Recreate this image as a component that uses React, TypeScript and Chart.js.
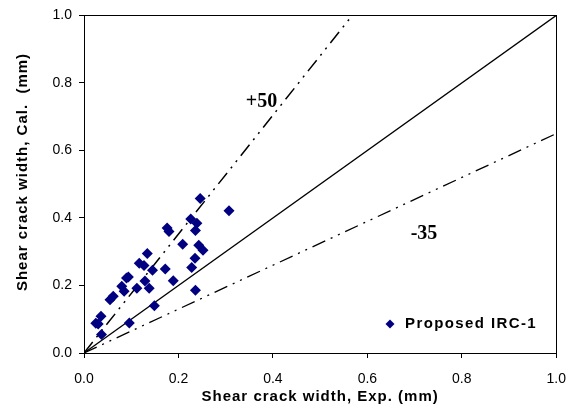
import React, { useEffect, useRef } from "react";
import { Chart, registerables } from "chart.js";

Chart.register(...registerables);

// Proposed IRC-1: experimental vs calculated shear crack width (mm)
const expWidth = [
  0.246, 0.307, 0.226, 0.239, 0.236, 0.176, 0.18, 0.209, 0.243, 0.252, 0.134,
  0.235, 0.117, 0.127, 0.145, 0.172, 0.228, 0.094, 0.09, 0.129, 0.189, 0.08,
  0.085, 0.112, 0.138, 0.236, 0.062, 0.055, 0.149, 0.036, 0.025, 0.03, 0.096,
  0.037,
];
const calWidth = [
  0.458, 0.421, 0.397, 0.384, 0.363, 0.37, 0.36, 0.322, 0.319, 0.304, 0.295,
  0.281, 0.266, 0.259, 0.245, 0.249, 0.253, 0.225, 0.222, 0.213, 0.214, 0.198,
  0.183, 0.192, 0.192, 0.186, 0.168, 0.158, 0.14, 0.109, 0.088, 0.086, 0.089,
  0.055,
];

// Reference lines
const equalX = [0, 1];
const equalY = [0, 1];
const plus50X = [0, 0.568];
const plus50Y = [0, 1];
const minus35X = [0, 1];
const minus35Y = [0, 0.65];

const tickValues = [0, 0.2, 0.4, 0.6, 0.8, 1.0];

const seriesLabel = "Proposed IRC-1";
const xTitle = "Shear crack width, Exp. (mm)";
const yTitle = "Shear crack width, Cal.  (mm)";
const plusLabel = "+50";
const minusLabel = "-35";

const toPoints = (xs: number[], ys: number[]) => xs.map((x, i) => ({ x, y: ys[i] }));

const MARKER = "#000080";
const SANS = "'Liberation Sans', Arial, sans-serif";
const SERIF = "'Liberation Serif', 'Times New Roman', serif";
const DASHDOT = [14, 6, 2, 6, 2, 6];

const decor = {
  id: "decor",
  afterDraw(chart: any) {
    const { ctx, chartArea, scales } = chart;
    const xs = scales.x;
    const ys = scales.y;
    ctx.save();
    // frame
    ctx.strokeStyle = "#000";
    ctx.lineWidth = 1;
    ctx.strokeRect(
      Math.round(chartArea.left) + 0.5,
      Math.round(chartArea.top) + 0.5,
      Math.round(chartArea.right - chartArea.left),
      Math.round(chartArea.bottom - chartArea.top)
    );
    ctx.fillStyle = "#000";
    // axis titles
    ctx.font = `bold 15px ${SANS}`;
    (ctx as any).letterSpacing = "1px";
    ctx.textAlign = "center";
    ctx.textBaseline = "middle";
    ctx.fillText(xTitle, (chartArea.left + chartArea.right) / 2, 397);
    ctx.save();
    ctx.translate(23, 172);
    ctx.rotate(-Math.PI / 2);
    ctx.fillText(yTitle, 0, 0);
    ctx.restore();
    // line annotations
    (ctx as any).letterSpacing = "0px";
    ctx.font = `bold 20px ${SERIF}`;
    ctx.fillText(plusLabel, xs.getPixelForValue(0.376), ys.getPixelForValue(0.745));
    ctx.fillText(minusLabel, xs.getPixelForValue(0.72), ys.getPixelForValue(0.352));
    // legend
    const lx = 390;
    const ly = 324;
    ctx.fillStyle = MARKER;
    ctx.beginPath();
    ctx.moveTo(lx, ly - 4.5);
    ctx.lineTo(lx + 4.5, ly);
    ctx.lineTo(lx, ly + 4.5);
    ctx.lineTo(lx - 4.5, ly);
    ctx.closePath();
    ctx.fill();
    ctx.fillStyle = "#000";
    ctx.font = `bold 15px ${SANS}`;
    (ctx as any).letterSpacing = "1.4px";
    ctx.textAlign = "left";
    ctx.fillText(seriesLabel, 405, ly);
    ctx.restore();
  },
};

export default function App() {
  const ref = useRef<HTMLCanvasElement | null>(null);

  useEffect(() => {
    if (!ref.current) return;
    const chart = new Chart(ref.current, {
      type: "scatter",
      data: {
        datasets: [
          {
            label: seriesLabel,
            data: toPoints(expWidth, calWidth),
            pointStyle: "rectRot",
            pointRadius: 5.5,
            pointBackgroundColor: MARKER,
            pointBorderWidth: 0,
            borderColor: MARKER,
            backgroundColor: MARKER,
            showLine: false,
          },
          {
            label: "1:1",
            data: toPoints(equalX, equalY),
            showLine: true,
            borderColor: "#000",
            borderWidth: 1.3,
            pointRadius: 0,
          },
          {
            label: "+50",
            data: toPoints(plus50X, plus50Y),
            showLine: true,
            borderColor: "#000",
            borderWidth: 1.5,
            borderDash: DASHDOT,
            pointRadius: 0,
          },
          {
            label: "-35",
            data: toPoints(minus35X, minus35Y),
            showLine: true,
            borderColor: "#000",
            borderWidth: 1.3,
            borderDash: DASHDOT,
            pointRadius: 0,
          },
        ],
      },
      options: {
        responsive: false,
        animation: false,
        layout: { padding: { top: 14, right: 21, left: 0, bottom: 0 } },
        plugins: {
          legend: { display: false },
          tooltip: { enabled: false },
        },
        scales: {
          x: {
            type: "linear",
            min: 0,
            max: 1,
            afterFit: (s: any) => {
              s.height = 61;
            },
            afterBuildTicks: (s: any) => {
              s.ticks = tickValues.map((v) => ({ value: v }));
            },
            ticks: {
              color: "#000",
              font: { family: SANS, size: 14 },
              padding: 13,
              maxRotation: 0,
              callback: (v: any) => Number(v).toFixed(1),
            },
            grid: {
              drawOnChartArea: false,
              drawTicks: true,
              tickLength: 5,
              color: "#000",
            },
            border: { display: true, color: "#000", width: 1 },
          },
          y: {
            type: "linear",
            min: 0,
            max: 1,
            afterFit: (s: any) => {
              s.width = 84;
            },
            afterBuildTicks: (s: any) => {
              s.ticks = tickValues.map((v) => ({ value: v }));
            },
            ticks: {
              color: "#000",
              font: { family: SANS, size: 14 },
              padding: 7,
              callback: (v: any) => Number(v).toFixed(1),
            },
            grid: {
              drawOnChartArea: false,
              drawTicks: true,
              tickLength: 5,
              color: "#000",
            },
            border: { display: true, color: "#000", width: 1 },
          },
        },
      },
      plugins: [decor],
    });
    return () => chart.destroy();
  }, []);

  return (
    <div style={{ position: "absolute", left: 0, top: 0, width: 579, height: 414, background: "#fff" }}>
      <canvas ref={ref} width={579} height={414} style={{ display: "block" }} />
    </div>
  );
}
